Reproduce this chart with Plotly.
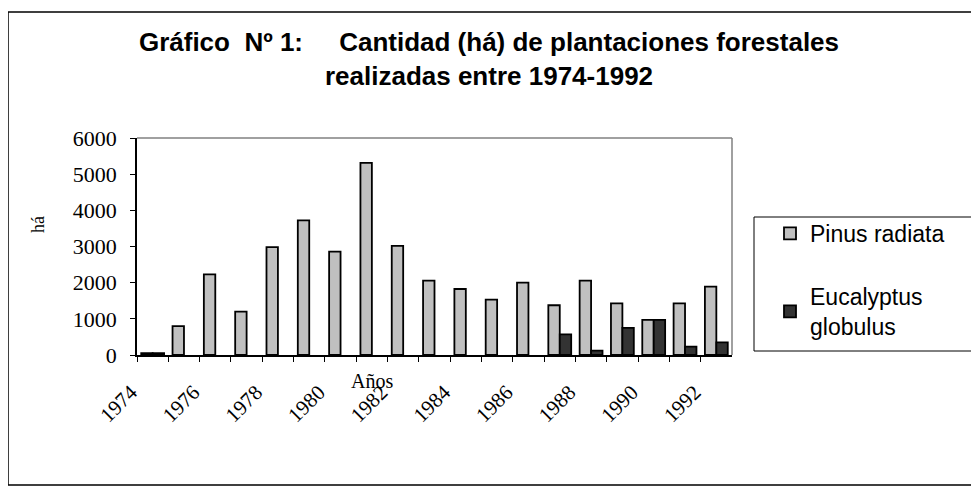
import plotly.graph_objects as go

years = list(range(1974, 1993))
pinus = [50, 800, 2230, 1200, 2980, 3720, 2860, 5310, 3020, 2055, 1825, 1530, 2000, 1375, 2055, 1430, 970, 1430, 1890]
eucalyptus = [50, None, None, None, None, None, None, None, None, None, None, None, None, 570, 120, 750, 970, 230, 350]
tick_labels = [str(y) if (y - 1974) % 2 == 0 else "" for y in years]

W, H = 979, 487
OFF = 8  # page body margin offset
# target screen pixels of the plot area
SL, SR, ST, SB = 137, 732, 138, 355
L, R, T, B = SL - OFF, SR - OFF, ST - OFF, SB - OFF


def px(xs):
    return (xs - SL) / (SR - SL)


def py(ys):
    return (SB - ys) / (SB - ST)


fig = go.Figure()
fig.add_trace(go.Bar(
    x=years, y=pinus, name="Pinus radiata", legendgroup="a",
    marker=dict(color="#C0C0C0", line=dict(color="black", width=1.8)),
))
fig.add_trace(go.Bar(
    x=years, y=eucalyptus, name="Eucalyptus<br>globulus", legendgroup="b",
    marker=dict(color="#333333", line=dict(color="black", width=1.8)),
))

serif = "Liberation Serif, Times New Roman, serif"
sans = "Liberation Sans, Arial, sans-serif"
nb = "\u00a0"

fig.update_layout(
    width=W, height=H,
    margin=dict(l=L, r=W - R, t=T, b=H - B, pad=0),
    paper_bgcolor="white", plot_bgcolor="white",
    barmode="group", bargap=0.27, bargroupgap=0,
    title=dict(
        text="Gráfico" + nb * 2 + "Nº 1:" + nb * 5 + "Cantidad (há) de plantaciones forestales<br>realizadas entre 1974-1992",
        x=(489 - OFF) / W, xref="container", xanchor="center",
        y=1 - 43 / H, yref="container", yanchor="top",
        font=dict(family=sans, size=26, color="black", weight="bold"),
    ),
    xaxis=dict(
        range=[1973.5, 1992.5],
        tickmode="array",
        tickvals=[y - 0.5 for y in years],
        ticktext=tick_labels,
        tickangle=-45,
        ticks="outside", ticklen=5, tickcolor="black", tickwidth=1,
        showline=True, linecolor="black", linewidth=1.5,
        showgrid=False, zeroline=False,
        tickfont=dict(family=serif, size=21, color="black"),
        ticklabelstandoff=10,
        ticklabelshift=-6,
    ),
    yaxis=dict(
        range=[0, 6000], dtick=1000, tick0=0,
        ticks="outside", ticklen=5, tickcolor="black", tickwidth=1,
        showline=True, linecolor="black", linewidth=1.5,
        showgrid=False, zeroline=False,
        tickfont=dict(family=serif, size=22, color="black"),
        ticklabelstandoff=9,
    ),
    legend=dict(
        x=px(770), y=py(212), xanchor="left", yanchor="top",
        borderwidth=0, bgcolor="rgba(0,0,0,0)",
        font=dict(family=sans, size=23, color="black"),
        tracegroupgap=30, traceorder="grouped",
    ),
    showlegend=True,
)

fig.add_annotation(
    text="Años", x=1981, xref="x", y=py(381), yref="paper",
    showarrow=False, font=dict(family=serif, size=20, color="black"),
    xanchor="center", yanchor="middle",
)
fig.add_annotation(
    text="há", x=px(38), xref="paper", y=py(225), yref="paper",
    showarrow=False, textangle=-90, font=dict(family=serif, size=18, color="black"),
    xanchor="center", yanchor="middle",
)

# plot-area top and right borders (gray)
fig.add_shape(type="line", xref="paper", yref="paper", x0=0, x1=1, y0=1, y1=1,
              line=dict(color="#808080", width=1.5))
fig.add_shape(type="line", xref="paper", yref="paper", x0=1, x1=1, y0=0, y1=1,
              line=dict(color="#808080", width=1.5))
# legend box
fig.add_shape(type="rect", xref="paper", yref="paper",
              x0=px(754), x1=px(975), y0=py(351), y1=py(217),
              line=dict(color="black", width=1), layer="below")
# outer chart border
fig.add_shape(type="rect", xref="paper", yref="paper",
              x0=px(8), x1=px(976), y0=py(485), y1=py(12),
              line=dict(color="black", width=1.5), layer="below")

fig.write_html("out.html")
